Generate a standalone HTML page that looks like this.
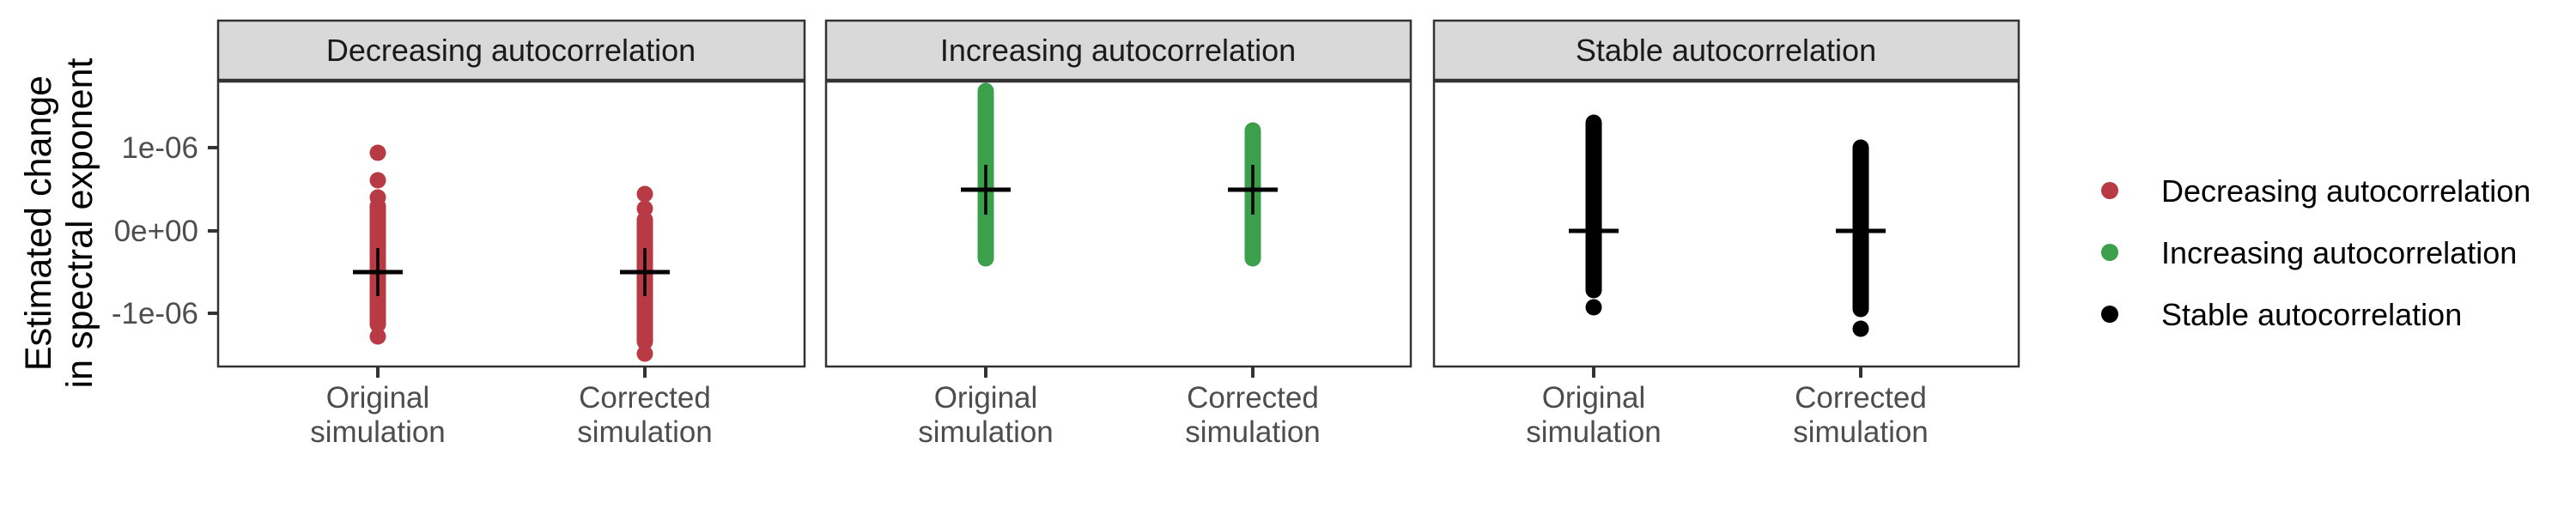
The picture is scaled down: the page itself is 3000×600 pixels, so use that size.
<!DOCTYPE html>
<html><head><meta charset="utf-8"><style>
html,body{margin:0;padding:0;background:#fff;}
svg{display:block;}
text{font-family:"Liberation Sans",Arial,sans-serif;}
</style></head><body>
<svg width="3000" height="600" viewBox="0 0 3000 600" xmlns="http://www.w3.org/2000/svg">
<rect width="3000" height="600" fill="#fff"/>
<text transform="translate(59,260) rotate(-90)" text-anchor="middle" font-size="43" fill="#000">Estimated change</text>
<text transform="translate(107,260) rotate(-90)" text-anchor="middle" font-size="43" fill="#000">in spectral exponent</text>
<g font-size="35" fill="#4d4d4d" text-anchor="end">
<text x="231" y="184">1e-06</text>
<text x="231" y="281">0e+00</text>
<text x="231" y="377">-1e-06</text>
</g>
<g stroke="#333" stroke-width="4">
<line x1="242" y1="172" x2="254" y2="172"/>
<line x1="242" y1="269" x2="254" y2="269"/>
<line x1="242" y1="365" x2="254" y2="365"/>
</g>
<g stroke="#333" stroke-width="2.5">
<rect x="254" y="24" width="683" height="69" fill="#d9d9d9"/>
<rect x="254" y="95" width="683" height="332" fill="#fff"/>
<rect x="962" y="24" width="681" height="69" fill="#d9d9d9"/>
<rect x="962" y="95" width="681" height="332" fill="#fff"/>
<rect x="1670" y="24" width="681" height="69" fill="#d9d9d9"/>
<rect x="1670" y="95" width="681" height="332" fill="#fff"/>
</g>
<g font-size="36" fill="#1a1a1a" text-anchor="middle">
<text x="595" y="71">Decreasing autocorrelation</text>
<text x="1302" y="71">Increasing autocorrelation</text>
<text x="2010" y="71">Stable autocorrelation</text>
</g>
<g stroke="#333" stroke-width="4">
<line x1="440" y1="427" x2="440" y2="440"/>
<line x1="751" y1="427" x2="751" y2="440"/>
<line x1="1148" y1="427" x2="1148" y2="440"/>
<line x1="1459" y1="427" x2="1459" y2="440"/>
<line x1="1856" y1="427" x2="1856" y2="440"/>
<line x1="2167" y1="427" x2="2167" y2="440"/>
</g>
<g font-size="35" fill="#4d4d4d" text-anchor="middle">
<text x="440" y="475">Original</text><text x="440" y="515">simulation</text>
<text x="751" y="475">Corrected</text><text x="751" y="515">simulation</text>
<text x="1148" y="475">Original</text><text x="1148" y="515">simulation</text>
<text x="1459" y="475">Corrected</text><text x="1459" y="515">simulation</text>
<text x="1856" y="475">Original</text><text x="1856" y="515">simulation</text>
<text x="2167" y="475">Corrected</text><text x="2167" y="515">simulation</text>
</g>
<g fill="#B83A45" stroke="#B83A45">
<circle cx="440" cy="178" r="9.5" stroke="none"/>
<circle cx="440" cy="210" r="9.5" stroke="none"/>
<circle cx="440" cy="230" r="9.5" stroke="none"/>
<line x1="440" y1="240" x2="440" y2="378" stroke-width="19" stroke-linecap="round"/>
<circle cx="440" cy="392" r="9.5" stroke="none"/>
<circle cx="751" cy="226" r="9.5" stroke="none"/>
<circle cx="751" cy="243" r="9.5" stroke="none"/>
<line x1="751" y1="256" x2="751" y2="398" stroke-width="19" stroke-linecap="round"/>
<circle cx="751" cy="412" r="9.5" stroke="none"/>
</g>
<g fill="#3C9F4B" stroke="#3C9F4B">
<line x1="1148" y1="106" x2="1148" y2="301" stroke-width="19" stroke-linecap="round"/>
<line x1="1459" y1="152" x2="1459" y2="301" stroke-width="19" stroke-linecap="round"/>
</g>
<g fill="#000" stroke="#000">
<line x1="1856" y1="143" x2="1856" y2="338" stroke-width="19" stroke-linecap="round"/>
<circle cx="1856" cy="358" r="9.5" stroke="none"/>
<line x1="2167" y1="172" x2="2167" y2="360" stroke-width="19" stroke-linecap="round"/>
<circle cx="2167" cy="383" r="9.5" stroke="none"/>
</g>
<g stroke="#000">
<line x1="411" y1="317" x2="469" y2="317" stroke-width="5"/>
<line x1="440" y1="289" x2="440" y2="345" stroke-width="3.5"/>
<line x1="722" y1="317" x2="780" y2="317" stroke-width="5"/>
<line x1="751" y1="289" x2="751" y2="345" stroke-width="3.5"/>
<line x1="1119" y1="221" x2="1177" y2="221" stroke-width="5"/>
<line x1="1148" y1="192" x2="1148" y2="250" stroke-width="3.5"/>
<line x1="1430" y1="221" x2="1488" y2="221" stroke-width="5"/>
<line x1="1459" y1="192" x2="1459" y2="250" stroke-width="3.5"/>
<line x1="1827" y1="269" x2="1885" y2="269" stroke-width="5"/>
<line x1="2138" y1="269" x2="2196" y2="269" stroke-width="5"/>
</g>
<circle cx="2457" cy="222" r="10" fill="#B83A45"/>
<circle cx="2457" cy="294" r="10" fill="#3C9F4B"/>
<circle cx="2457" cy="366" r="10" fill="#000"/>
<g font-size="36" fill="#000">
<text x="2517" y="235">Decreasing autocorrelation</text>
<text x="2517" y="307">Increasing autocorrelation</text>
<text x="2517" y="379">Stable autocorrelation</text>
</g>
</svg>
</body></html>
